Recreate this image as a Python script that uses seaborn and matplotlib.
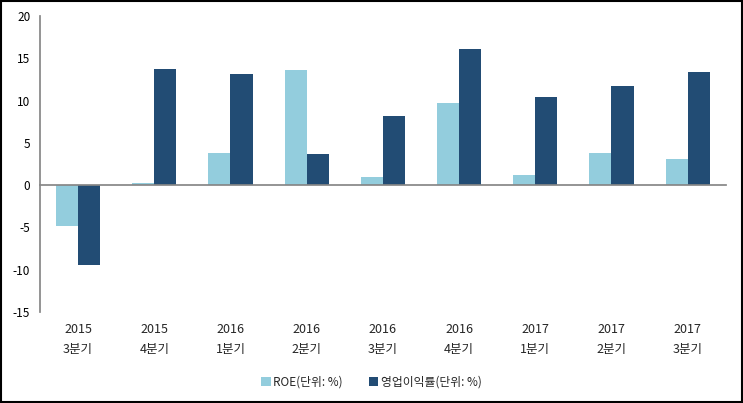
import pandas as pd
import numpy as np
import matplotlib.pyplot as plt
import seaborn as sns
from matplotlib.patches import Rectangle

sns.set_theme(style="white")
plt.rcParams["font.family"] = ["Noto Sans CJK KR", "DejaVu Sans"]
plt.rcParams["axes.unicode_minus"] = False

# data
years = ["2015", "2015", "2016", "2016", "2016", "2016", "2017", "2017", "2017"]
quarters = ["3분기", "4분기", "1분기", "2분기", "3분기", "4분기", "1분기", "2분기", "3분기"]
roe = [-4.8, 0.3, 3.8, 13.6, 1.0, 9.7, 1.2, 3.8, 3.1]
op_margin = [-9.4, 13.7, 13.1, 3.7, 8.2, 16.1, 10.4, 11.7, 13.4]
series_names = ["ROE(단위: %)", "영업이익률(단위: %)"]
colors = ["#93CDDD", "#224C74"]

labels = [f"{y}\n{q}" for y, q in zip(years, quarters)]
df = pd.DataFrame({
    "quarter": labels * 2,
    "value": roe + op_margin,
    "series": [series_names[0]] * len(labels) + [series_names[1]] * len(labels),
})

fig = plt.figure(figsize=(7.43, 4.03), dpi=100)
ax = fig.add_axes([0.0538, 0.226, 0.923, 0.734])

sns.barplot(data=df, x="quarter", y="value", hue="series", palette=colors,
            width=0.58, gap=0, saturation=1, linewidth=0, ax=ax, legend=True)

axis_color = "#868686"
ax.set_ylim(-15, 20)
ax.set_yticks(np.arange(-15, 21, 5))
ax.set_xlim(-0.5, len(labels) - 0.5)
ax.set_xlabel("")
ax.set_ylabel("")

for side in ["top", "right"]:
    ax.spines[side].set_visible(False)
ax.spines["left"].set_color(axis_color)
ax.spines["bottom"].set_color(axis_color)
ax.spines["bottom"].set_position(("data", 0))

# boundary ticks on the zero line
ax.set_xticks(np.arange(-0.5, len(labels), 1), minor=True)
ax.set_xticks(range(len(labels)))
ax.set_xticklabels([])
ax.tick_params(axis="x", which="major", length=0)
ax.tick_params(axis="x", which="minor", length=4, color=axis_color, direction="out", width=1)
ax.tick_params(axis="y", length=4, color=axis_color, direction="out", width=1,
               labelsize=8.5, pad=3, labelcolor="black")

# category labels below the plot area
sec = ax.secondary_xaxis(0)
sec.set_xticks(range(len(labels)))
sec.set_xticklabels(labels, fontsize=9, linespacing=1.7)
sec.tick_params(length=0, pad=8)
sec.spines["bottom"].set_visible(False)

handles, _ = ax.get_legend_handles_labels()
ax.legend(handles, series_names, loc="center", bbox_to_anchor=(0.5, 0.052),
          bbox_transform=fig.transFigure, ncol=2, frameon=False, fontsize=8.5,
          handlelength=0.8, handleheight=0.8, handletextpad=0.2, columnspacing=2.2)

fig.add_artist(Rectangle((0.001, 0.002), 0.997, 0.995, transform=fig.transFigure,
                         fill=False, edgecolor="black", linewidth=1.5))

fig.savefig("out.png", dpi=100)
